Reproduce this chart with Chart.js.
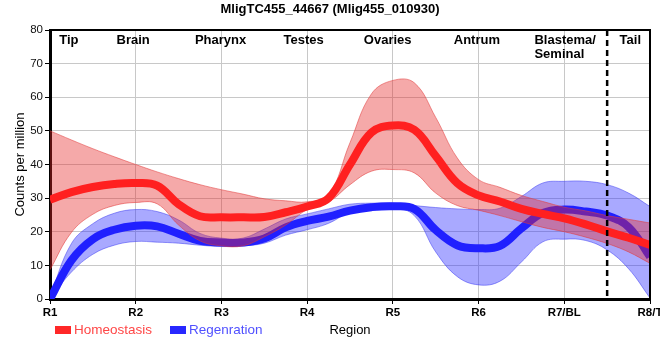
<!DOCTYPE html>
<html>
<head>
<meta charset="utf-8">
<script src="https://cdn.jsdelivr.net/npm/chart.js@4.4.1/dist/chart.umd.min.js"></script>
<style>
  html, body { margin: 0; padding: 0; background: #fff; }
  #wrap { width: 660px; height: 360px; }
</style>
</head>
<body>
<div id="wrap"><canvas id="canvas_region" width="660" height="360"></canvas></div>
<script>
// sampling positions along the region axis (R1 = 1 ... R8/T = 8)
var xs = [1, 1.25, 1.5, 1.75, 2, 2.25, 2.5, 2.75, 3, 3.25, 3.5, 3.75, 4, 4.25, 4.5, 4.75,
          5, 5.25, 5.5, 5.75, 6, 6.25, 6.5, 6.75, 7, 7.25, 7.5, 7.75, 8];

var tickLabels = ["R1", "R2", "R3", "R4", "R5", "R6", "R7/BL", "R8/T"];

// homeostasis: mean and band
var homeoMean = [29.5, 31.8, 33.3, 34.2, 34.5, 33.7, 28.2, 24.6, 24.3, 24.3, 24.4, 25.8, 27.5, 30, 40, 49.5,
                 51.6, 50.3, 42.5, 34.5, 30.8, 29, 26.8, 25.3, 24, 22.2, 20.1, 18.2, 16.1];
var homeoHigh = [50, 47.3, 44.7, 42.3, 40, 37.8, 35.8, 34, 32.5, 31.2, 29.8, 29.2, 28.9, 31, 46.5, 61,
                 65, 64.3, 54, 42, 35.5, 33.2, 30.8, 29, 27.3, 26.2, 24.8, 23.7, 22.6];
var homeoLow = [8.7, 19.8, 25.2, 27.8, 28.7, 28.3, 22, 17.3, 15.8, 15.8, 18.5, 22, 26.6, 28.8, 34, 38,
                38.5, 37.5, 31.5, 27.8, 26.4, 24.8, 23, 21.3, 20, 18.4, 16.5, 14, 10.6];

// regeneration: mean and band
var regenMean = [0, 11.5, 17.8, 20.6, 21.8, 21.6, 19.4, 17.3, 16.8, 16.8, 18, 21.3, 23.2, 24.5, 26.3, 27.3,
                 27.6, 26.8, 20.5, 16, 15.1, 15.8, 21, 25.6, 26.6, 26, 24.8, 21.4, 12.6];
var regenHigh = [0.7, 16.5, 22.4, 25.5, 26.6, 26, 23.5, 19.5, 18.1, 18.1, 20.8, 23.8, 25.3, 26.8, 28.2, 28.5,
                 28.5, 27.8, 27.2, 26.8, 26.6, 27, 30.5, 34.5, 35, 35, 34, 31.5, 27.5];
var regenLow = [0, 8, 13.3, 16, 17.1, 16.9, 16.6, 16, 15.6, 15.8, 16.6, 19, 20.6, 22.5, 25.8, 26.8,
                27.2, 24.8, 14, 6.7, 4.2, 5.3, 11, 17, 17.8, 17.4, 14.6, 9, 0.3];

// body region names along the top, and where they sit on the region axis
var regionNames = ["Tip", "Brain", "Pharynx", "Testes", "Ovaries", "Antrum", "Blastema/\nSeminal", "Tail"];
var regionAt = [1.22, 1.97, 2.99, 3.96, 4.94, 5.98, 7.01, 7.77];
var tailBoundary = 7.5;

function toPoints(vals) {
    var pts = [];
    for (var i = 0; i < xs.length; i++) {
        pts.push({x: xs[i], y: vals[i]});
    }
    return pts;
}

var FONT = "Arial, 'Liberation Sans', sans-serif";

var decorPlugin = {
    id: "decor",
    afterDatasetsDraw: function(chart) {
        var ctx = chart.ctx;
        var area = chart.chartArea;
        var xScale = chart.scales.x;
        // dashed tail boundary
        var bx = xScale.getPixelForValue(tailBoundary);
        ctx.save();
        ctx.strokeStyle = "#000";
        ctx.lineWidth = 2.5;
        ctx.setLineDash([6, 4]);
        ctx.beginPath();
        ctx.moveTo(bx, area.top);
        ctx.lineTo(bx, area.bottom);
        ctx.stroke();
        ctx.restore();
    },
    afterDraw: function(chart) {
        var ctx = chart.ctx;
        var area = chart.chartArea;
        var xScale = chart.scales.x;
        ctx.save();
        // top and right frame
        ctx.strokeStyle = "#000";
        ctx.lineWidth = 2;
        ctx.beginPath();
        ctx.moveTo(area.left, area.top);
        ctx.lineTo(area.right, area.top);
        ctx.lineTo(area.right, area.bottom);
        ctx.stroke();

        // title
        ctx.fillStyle = "#000";
        ctx.font = "bold 13px " + FONT;
        ctx.textAlign = "center";
        ctx.textBaseline = "middle";
        ctx.fillText("MligTC455_44667 (Mlig455_010930)", 330, 9);

        // region names
        for (var i = 0; i < regionNames.length; i++) {
            var lines = regionNames[i].split("\n");
            var cx = xScale.getPixelForValue(regionAt[i]);
            if (lines.length > 1) {
                var w = 0;
                for (var j = 0; j < lines.length; j++) {
                    w = Math.max(w, ctx.measureText(lines[j]).width);
                }
                ctx.textAlign = "left";
                for (var j = 0; j < lines.length; j++) {
                    ctx.fillText(lines[j], cx - w / 2, 40 + j * 14.5);
                }
                ctx.textAlign = "center";
            } else {
                ctx.fillText(lines[0], cx, 40);
            }
        }

        // y axis title
        ctx.font = "13px " + FONT;
        ctx.save();
        ctx.translate(20, (area.top + area.bottom) / 2);
        ctx.rotate(-Math.PI / 2);
        ctx.fillText("Counts per million", 0, 0);
        ctx.restore();

        // x axis title
        ctx.fillText("Region", (area.left + area.right) / 2, 330);

        // legend
        ctx.textAlign = "left";
        ctx.font = "13.5px " + FONT;
        ctx.fillStyle = "rgb(255,40,40)";
        ctx.fillRect(55, 326, 16, 8);
        ctx.fillStyle = "rgb(255,70,70)";
        ctx.fillText("Homeostasis", 74, 330);
        ctx.fillStyle = "rgb(40,40,255)";
        ctx.fillRect(170, 326, 16, 8);
        ctx.fillStyle = "rgb(80,80,255)";
        ctx.fillText("Regenration", 189, 330);
        ctx.restore();
    }
};

var redLine = "rgb(255,32,32)";
var redBand = "rgba(230,40,40,0.4)";
var redEdge = "rgba(225,60,60,0.55)";
var blueLine = "rgb(32,32,255)";
var blueBand = "rgba(40,40,255,0.4)";
var blueEdge = "rgba(60,60,240,0.5)";

// index 0 is drawn last (on top)
var datasets = [
    {label: "Homeostasis", data: toPoints(homeoMean), borderColor: redLine, borderWidth: 8, fill: false},
    {label: "homeoHigh", data: toPoints(homeoHigh), borderColor: redEdge, borderWidth: 1, backgroundColor: redBand, fill: "+1"},
    {label: "homeoLow", data: toPoints(homeoLow), borderColor: redEdge, borderWidth: 1, fill: false},
    {label: "Regenration", data: toPoints(regenMean), borderColor: blueLine, borderWidth: 8, fill: false},
    {label: "regenHigh", data: toPoints(regenHigh), borderColor: blueEdge, borderWidth: 1, backgroundColor: blueBand, fill: "+1"},
    {label: "regenLow", data: toPoints(regenLow), borderColor: blueEdge, borderWidth: 1, fill: false}
];
for (var i = 0; i < datasets.length; i++) {
    datasets[i].pointRadius = 0;
    datasets[i].tension = 0.4;
}

var ctx = document.getElementById("canvas_region").getContext("2d");
var regionChart = new Chart(ctx, {
    type: "line",
    data: {datasets: datasets},
    options: {
        responsive: false,
        animation: false,
        devicePixelRatio: 1,
        layout: {padding: {left: 0, right: 10, top: 30, bottom: 0}},
        plugins: {
            legend: {display: false},
            tooltip: {enabled: false},
            title: {display: false}
        },
        scales: {
            x: {
                type: "linear",
                min: 1,
                max: 8,
                ticks: {
                    stepSize: 1,
                    color: "#000",
                    padding: 2,
                    maxRotation: 0,
                    font: {family: FONT, size: 11.5, weight: "bold"},
                    callback: function(v) { return tickLabels[v - 1]; }
                },
                grid: {color: "#c8c8c8", tickColor: "#000", tickLength: 5},
                border: {color: "#000", width: 3},
                afterFit: function(scale) {
                    scale.height = 61;
                    scale.paddingLeft = 0;
                    scale.paddingRight = 0;
                }
            },
            y: {
                min: 0,
                max: 80,
                ticks: {
                    stepSize: 10,
                    color: "#111",
                    padding: 2,
                    font: {family: FONT, size: 11.5}
                },
                grid: {color: "#c8c8c8", tickColor: "#000", tickLength: 5},
                border: {color: "#000", width: 3},
                afterFit: function(scale) {
                    scale.width = 50;
                    scale.paddingTop = 0;
                    scale.paddingBottom = 0;
                }
            }
        }
    },
    plugins: [decorPlugin]
});
</script>
</body>
</html>
